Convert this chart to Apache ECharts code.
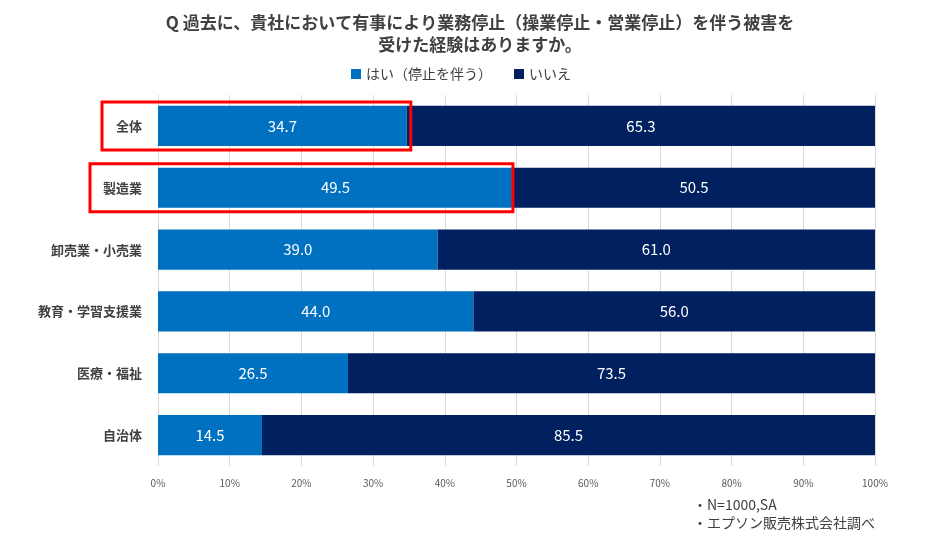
<!DOCTYPE html>
<html>
<head>
<meta charset="utf-8">
<script src="https://cdn.jsdelivr.net/npm/echarts@6/dist/echarts.min.js"></script>
<style>
  html, body { margin: 0; padding: 0; background: #fff; }
  #chart { width: 939px; height: 544px; }
</style>
</head>
<body>
<div id="chart"></div>
<script>
var categories = ['全体', '製造業', '卸売業・小売業', '教育・学習支援業', '医療・福祉', '自治体'];
var yesValues = [34.7, 49.5, 39.0, 44.0, 26.5, 14.5];
var noValues = [65.3, 50.5, 61.0, 56.0, 73.5, 85.5];
var seriesNames = ['はい（停止を伴う）', 'いいえ'];
// rows to highlight with a red frame
var highlightRows = [0, 1];

var font = '"Noto Sans CJK JP", "Noto Sans", sans-serif';
var chart = echarts.init(document.getElementById('chart'));

var option = {
  animation: false,
  textStyle: { fontFamily: font },
  title: {
    text: 'Q 過去に、貴社において有事により業務停止（操業停止・営業停止）を伴う被害を\n受けた経験はありますか。',
    left: 475,
    textAlign: 'center',
    top: 7,
    textStyle: { fontSize: 17, fontWeight: 'bold', color: '#404040', lineHeight: 22, fontFamily: font }
  },
  legend: {
    top: 62,
    left: 346,
    itemWidth: 10,
    itemHeight: 10,
    itemGap: 22,
    icon: 'rect',
    textStyle: { fontSize: 14, color: '#404040', fontFamily: font },
    data: seriesNames
  },
  grid: { left: 158, right: 64, top: 95, bottom: 78, containLabel: false },
  xAxis: {
    type: 'value',
    min: 0,
    max: 100,
    interval: 10,
    axisLine: { show: false },
    axisTick: { show: false },
    splitLine: { lineStyle: { color: '#d9d9d9', width: 1 } },
    axisLabel: { formatter: '{value}%', fontSize: 10, color: '#595959', margin: 12, fontFamily: font }
  },
  yAxis: {
    type: 'category',
    inverse: true,
    data: categories,
    axisLine: { show: false },
    axisTick: { show: false },
    axisLabel: { fontSize: 13, fontWeight: 'bold', color: '#404040', margin: 16, fontFamily: font }
  },
  series: [
    {
      name: seriesNames[0],
      type: 'bar',
      stack: 'total',
      barCategoryGap: '35%',
      data: yesValues,
      itemStyle: { color: '#0070C0' },
      label: { show: true, position: 'inside', color: '#fff', fontSize: 15, formatter: function (p) { return p.value.toFixed(1); } }
    },
    {
      name: seriesNames[1],
      type: 'bar',
      stack: 'total',
      data: noValues,
      itemStyle: { color: '#002060' },
      label: { show: true, position: 'inside', color: '#fff', fontSize: 15, formatter: function (p) { return p.value.toFixed(1); } }
    }
  ],
  graphic: [
    {
      type: 'text',
      left: 693,
      top: 496,
      style: { text: '・N=1000,SA\n・エプソン販売株式会社調べ', fontSize: 14, lineHeight: 18, fill: '#404040', fontFamily: font }
    }
  ]
};

chart.setOption(option);

// red frames around highlighted rows, positioned from the axes
var leftPad = [56, 68];
var rightPad = [4, 0];
var frames = highlightRows.map(function (row, i) {
  var end = chart.convertToPixel({ gridIndex: 0 }, [yesValues[row], row]);
  var start = chart.convertToPixel({ gridIndex: 0 }, [0, row]);
  return {
    type: 'rect',
    shape: { x: start[0] - leftPad[i], y: end[1] - 24, width: end[0] - start[0] + leftPad[i] + rightPad[i], height: 48 },
    style: { fill: 'none', stroke: '#FF0000', lineWidth: 3 },
    z: 100
  };
});
chart.setOption({ graphic: option.graphic.concat(frames) });
</script>
</body>
</html>
